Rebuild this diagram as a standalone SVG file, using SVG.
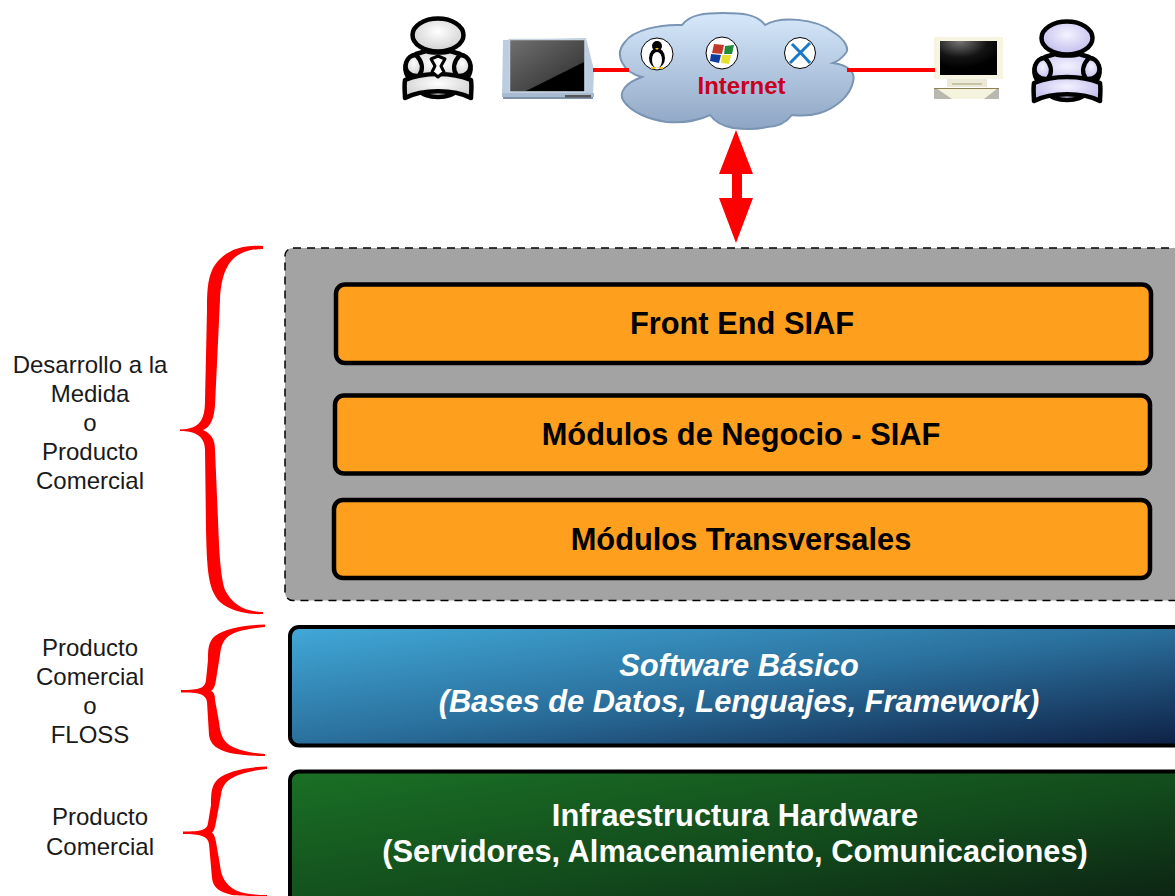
<svg xmlns="http://www.w3.org/2000/svg" width="1175" height="896" viewBox="0 0 1175 896">
<defs>
<linearGradient id="cloud" x1="0" y1="0" x2="0" y2="1"><stop offset="0" stop-color="#d6e8fb"/><stop offset="1" stop-color="#8ea6c4"/></linearGradient>
<linearGradient id="blue" x1="0" y1="0" x2="1" y2="1"><stop offset="0" stop-color="#41a9d8"/><stop offset="0.5" stop-color="#2a6f9c"/><stop offset="1" stop-color="#0e1f43"/></linearGradient>
<linearGradient id="green" x1="0" y1="0" x2="1" y2="1"><stop offset="0" stop-color="#1a7025"/><stop offset="0.55" stop-color="#124a1c"/><stop offset="1" stop-color="#0c1f12"/></linearGradient>
<linearGradient id="screen" x1="0" y1="0" x2="1" y2="1"><stop offset="0" stop-color="#707070"/><stop offset="1" stop-color="#2a2a2a"/></linearGradient>
<radialGradient id="mon" cx="0.35" cy="0" r="0.8"><stop offset="0" stop-color="#777"/><stop offset="0.6" stop-color="#141414"/><stop offset="1" stop-color="#000"/></radialGradient>
<radialGradient id="gp" cx="0.5" cy="0.4" r="0.6"><stop offset="0" stop-color="#fff"/><stop offset="1" stop-color="#cfcfcf"/></radialGradient>
<radialGradient id="lp" cx="0.5" cy="0.4" r="0.6"><stop offset="0" stop-color="#f4f2ff"/><stop offset="1" stop-color="#c0bcec"/></radialGradient>
<g id="person" stroke="#000" stroke-width="4.500" stroke-linejoin="round">
<ellipse cx="0" cy="56" rx="17" ry="6"/>
<path d="M-27 46 C-36 36 -34 24 -22 19 L-12 16 C-6 18 6 18 12 16 L22 19 C34 24 36 36 27 46 Z"/>
<path d="M-19 41 C-28 42 -34 36 -32 28 C-30 22 -26 20 -22 20 C-16 26 -14 34 -19 41 Z"/>
<path d="M19 41 C28 42 34 36 32 28 C30 22 26 20 22 20 C16 26 14 34 19 41 Z"/>
<ellipse cx="0" cy="0" rx="25.500" ry="16.500"/>
<path d="M-33 45 C-14 37 14 37 33 45 C34 52 33 58 33 63 C16 54 -16 54 -33 63 C-33 58 -34 52 -33 45 Z"/>
</g>
</defs>
<style>
.lab{font-family:"Liberation Sans",Arial,sans-serif;font-size:24px;fill:#1a1a1a;text-anchor:middle}
.t{font-family:"Liberation Sans",Arial,sans-serif;font-size:30.800px;font-weight:700;text-anchor:middle}
.box{fill:#ff9f1e;stroke:#000;stroke-width:4.500}
.brace{fill:#ff0000}
.red{stroke:#ff0000;stroke-width:4;fill:none}
</style>
<g id="user-left"><use href="#person" transform="translate(438,35)" fill="url(#gp)"/>
<path d="M431 59L438 56L445 59L441 66L444 72L438 77L432 72L435 66Z" fill="#fff" stroke="#000" stroke-width="3" stroke-linejoin="round"/></g>
<g id="laptop">
<path d="M503 40L586 38L594 70L593 96H502Z" fill="#bccde0"/>
<rect x="509.500" y="39.500" width="75.500" height="52.500" fill="url(#screen)" stroke="#c5d2e0" stroke-width="1.500"/>
<path d="M526 91L584 62V91Z" fill="#000"/>
<rect x="502" y="93" width="92" height="4" fill="#a8bbd0"/>
<rect x="503" y="97" width="90" height="2" fill="#7e92a8"/>
<rect x="565" y="95" width="26" height="2.500" fill="#555"/>
</g>
<g id="internet">
<path d="M642 77C622 72 614 54 625 42C633 30 660 24 682 25C690 14 706 13 723 13C742 13 757 14 765 25C780 16 815 18 833 32C846 40 850 50 845 54C842 58 838 61 833 63C848 65 856 72 853 82C850 96 836 108 820 113C810 116 800 116 792 115C785 124 775 127 767 127C755 130 742 129 733 128C722 126 715 122 710 115C695 122 680 123 667 122C650 120 630 112 623 100C619 92 625 83 642 77Z" fill="url(#cloud)" stroke="#7a94b4" stroke-width="2"/>
<circle cx="657" cy="54" r="16" fill="#fff" stroke="#000"/>
<ellipse cx="657" cy="58" rx="8" ry="10" fill="#000"/><circle cx="657" cy="46" r="5" fill="#000"/><ellipse cx="657" cy="60" rx="5" ry="8" fill="#fff"/>
<path d="M655 48h4l-2 2z" fill="#f5c518"/><path d="M651 67h4v2h-4zM659 67h4v2h-4z" fill="#f5c518"/>
<circle cx="722" cy="53" r="16" fill="#fff" stroke="#000"/>
<path d="M714 44l10 1-2 9-10-1z" fill="#c0392b"/><path d="M725 46l9-1-2 9-8 0z" fill="#1e8a3a"/><path d="M711 54l10 1-2 8-9-2z" fill="#0f3a9e"/><path d="M722 55l9 0-2 9-8-1z" fill="#e8e030"/>
<circle cx="800" cy="53" r="15.500" fill="#fff" stroke="#000"/>
<path d="M790 63L810 43M792 44C798 50 804 56 810 63" stroke="#1a78c8" stroke-width="3" fill="none"/>
<text x="741.500" y="94" font-family="Liberation Sans,Arial,sans-serif" font-size="24" font-weight="700" fill="#c8001e" text-anchor="middle">Internet</text>
</g>
<g id="desktop">
<rect x="934" y="37" width="69" height="42" fill="#f7f5e2"/>
<rect x="940" y="41" width="57" height="34" fill="url(#mon)"/>
<rect x="947" y="79" width="40" height="8" fill="#ecead6"/>
<rect x="952" y="83" width="30" height="2" fill="#c8c4a8"/>
<rect x="934" y="88" width="65" height="11" rx="1" fill="#b8b8b0"/>
<path d="M936 88H998L984 99H952Z" fill="#f5f3de"/><rect x="934" y="88" width="65" height="1" fill="#8c8050"/>
</g>
<g id="user-right"><use href="#person" transform="translate(1067,38)" fill="url(#lp)"/></g>
<g id="connectors">
<path class="red" d="M593 70H629M847 70H935"/>
<path fill="#ff0000" d="M736 130L753 174H742V198H753L736 243L719 198H732V174H719Z"/>
</g>
<g id="brace-1"><path class="brace" d="M263 246C240 244 222 252 213 268C207 280 207 295 207 310L205 400C205 420 200 429 180 429.500L180 431C195 431 205 436 205 450L206 530C207 570 208 590 220 602C230 611 248 615 263 614L263 612C245 612 232 604 225 590C220 575 219 545 218 520L215 450C215 440 212 434 203 430C210 427 214 420 215 405L220 300C221 275 228 260 240 254C248 250 256 249 263 249Z"/></g>
<g id="group-dashed"><rect x="285" y="248" width="900" height="352.500" rx="8" fill="#a3a3a3" stroke="#000" stroke-width="1.500" stroke-dasharray="8 6"/></g>
<g id="front-end"><rect class="box" x="336" y="284.500" width="815" height="78.500" rx="9"/><text class="t" x="742" y="333.500" fill="#000">Front End SIAF</text></g>
<g id="negocio"><rect class="box" x="335" y="395.500" width="815" height="78" rx="9"/><text class="t" x="741" y="444.500" fill="#000">Módulos de Negocio - SIAF</text></g>
<g id="transversales"><rect class="box" x="334" y="500" width="816" height="78" rx="9"/><text class="t" x="741" y="549.500" fill="#000">Módulos Transversales</text></g>
<g id="software"><rect x="290" y="627" width="900" height="118.500" rx="9" fill="url(#blue)" stroke="#000" stroke-width="4"/>
<text class="t" x="739" y="675.500" fill="#fff" font-style="italic">Software Básico</text><text class="t" x="739" y="711.500" fill="#fff" font-style="italic">(Bases de Datos, Lenguajes, Framework)</text></g>
<g id="hardware"><rect x="290" y="771.500" width="900" height="140" rx="9" fill="url(#green)" stroke="#000" stroke-width="4"/>
<text class="t" x="735" y="825.500" fill="#fff">Infraestructura Hardware</text><text class="t" x="735" y="861.500" fill="#fff">(Servidores, Almacenamiento, Comunicaciones)</text></g>
<g id="brace-2"><path class="brace" d="M265 624.500C245 625 225 628 215 636C208 642 208 650 208 660L206 680C205 688 200 690 181 690L181 692.500C198 692 206 694 207 702L209 735C210 745 218 750 230 753C240 755 255 756 265 756L265 754C250 753 236 750 228 744C221 738 220 730 219 722L215 700C215 695 214 692 211 691C214 689 215 686 216 680L220 655C221 645 224 638 232 634C240 630 255 628 265 627Z"/></g>
<g id="brace-3"><path class="brace" d="M267 766.500C247 767 227 771 218 779C211 785 211 795 211 805L208 823C207 830 202 831.500 183 831.500L183 834C200 834 208 836 209 844L212 878C213 888 220 892 232 895C240 896 255 896 267 896L267 895C252 895 238 893 232 888C224 882 221 875 220 865L216 842C215 837 214 834 212 832.500C214 831 215 828 216 822L221 795C222 786 226 781 234 777C242 773 255 770 267 769Z"/></g>
<g id="labels">
<text class="lab" x="90" y="373">Desarrollo a la</text><text class="lab" x="90" y="402">Medida</text><text class="lab" x="90" y="431">o</text><text class="lab" x="90" y="460">Producto</text><text class="lab" x="90" y="489">Comercial</text>
<text class="lab" x="90" y="656">Producto</text><text class="lab" x="90" y="685">Comercial</text><text class="lab" x="90" y="714">o</text><text class="lab" x="90" y="743">FLOSS</text>
<text class="lab" x="100" y="825">Producto</text><text class="lab" x="100" y="855">Comercial</text>
</g>
</svg>
